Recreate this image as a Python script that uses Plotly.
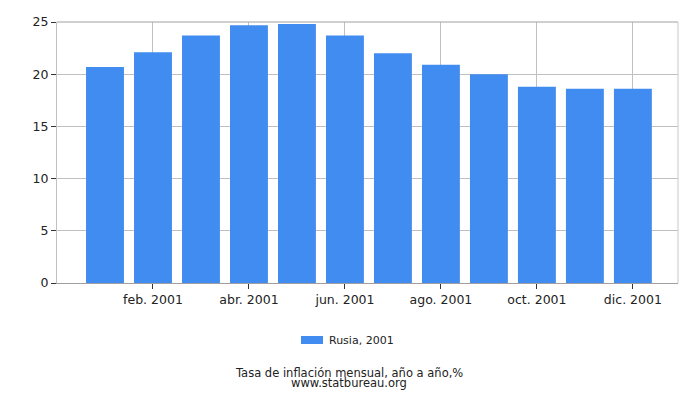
import plotly.graph_objects as go

months = ['ene. 2001', 'feb. 2001', 'mar. 2001', 'abr. 2001', 'may. 2001', 'jun. 2001',
          'jul. 2001', 'ago. 2001', 'sep. 2001', 'oct. 2001', 'nov. 2001', 'dic. 2001']
inflation = [20.7, 22.1, 23.7, 24.7, 24.8, 23.7, 22.0, 20.9, 20.0, 18.8, 18.6, 18.6]
shown_ticks = ['feb. 2001', 'abr. 2001', 'jun. 2001', 'ago. 2001', 'oct. 2001', 'dic. 2001']
y_ticks = [0, 5, 10, 15, 20, 25]
series_name = 'Rusia, 2001'

BAR_COLOR = '#418CF0'
GRID = '#c0c0c0'
FONT = 'DejaVu Sans'
TEXT = '#222222'

fig = go.Figure()
fig.add_trace(go.Bar(
    x=months, y=inflation, name=series_name,
    marker=dict(color=BAR_COLOR, line=dict(width=0)),
    width=0.79, showlegend=False,
))

# the page has an 8px body margin, so margins are shifted to compensate
fig.update_layout(
    width=700, height=400,
    margin=dict(l=49, r=30, t=14, b=125, autoexpand=False),
    paper_bgcolor='white', plot_bgcolor='white',
    font=dict(family=FONT, size=12, color=TEXT),
    showlegend=False,
    xaxis=dict(
        type='category', range=[-1, 11.94], automargin=False,
        tickmode='array', tickvals=shown_ticks, ticktext=shown_ticks,
        showgrid=True, gridcolor=GRID, gridwidth=1,
        ticks='outside', ticklen=5, tickcolor='#333333',
        showline=True, linecolor='#a0a0a0', linewidth=1,
        tickfont=dict(size=12.5, color=TEXT),
    ),
    yaxis=dict(
        range=[0, 25], tickvals=y_ticks, automargin=False,
        showgrid=True, gridcolor=GRID, gridwidth=1,
        ticks='outside', ticklen=5, tickcolor='#333333',
        showline=True, linecolor='#c0c0c0', linewidth=1,
        tickfont=dict(size=12.5, color=TEXT),
        zeroline=False,
    ),
)

# top and right frame of the plot area
fig.add_shape(type='line', xref='paper', yref='paper', x0=0, x1=1, y0=1, y1=1,
              line=dict(color='#a0a0a0', width=1))
fig.add_shape(type='line', xref='paper', yref='paper', x0=1, x1=1, y0=0, y1=1,
              line=dict(color='#c8c8c8', width=1))

# legend: wide flat swatch + label, like the original
fig.add_shape(type='rect', xref='paper', yref='paper', x0=0.3929, x1=0.4283, y0=-0.2337, y1=-0.2031,
              fillcolor=BAR_COLOR, line=dict(width=0))
fig.add_annotation(text=series_name, xref='paper', yref='paper',
                   x=0.4348, y=-0.2184, xanchor='left', yanchor='middle', showarrow=False,
                   font=dict(size=11, color=TEXT, family=FONT))

fig.add_annotation(text='Tasa de inflación mensual, año a año,%', xref='paper', yref='paper',
                   x=0.471, y=-0.345, xanchor='center', yanchor='middle', showarrow=False,
                   font=dict(size=11.5, color=TEXT, family=FONT))
fig.add_annotation(text='www.statbureau.org', xref='paper', yref='paper',
                   x=0.471, y=-0.384, xanchor='center', yanchor='middle', showarrow=False,
                   font=dict(size=11.5, color=TEXT, family=FONT))

fig.write_html('out.html')
